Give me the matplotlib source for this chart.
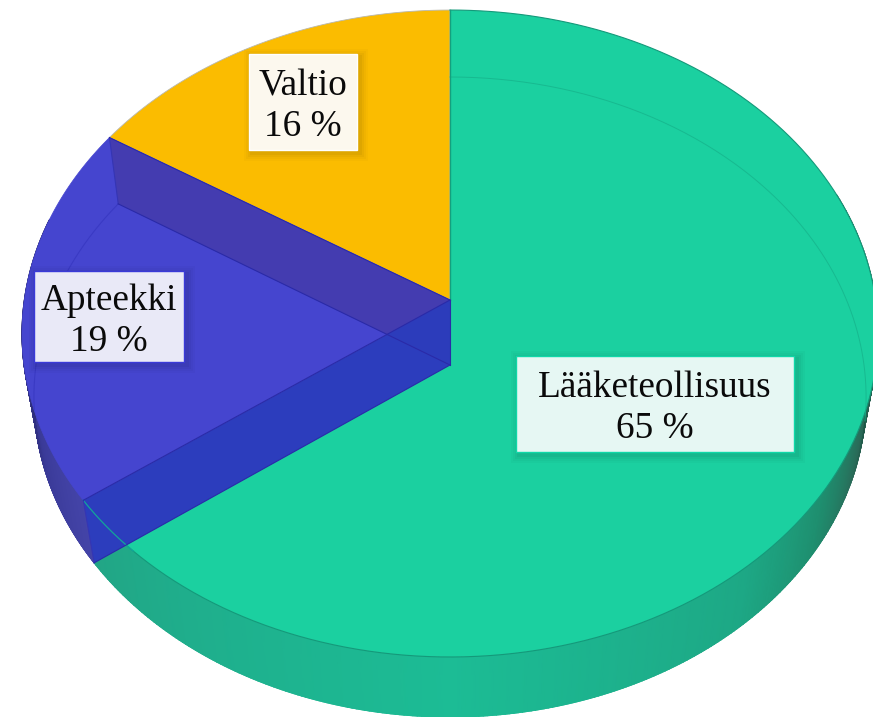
import numpy as np
import matplotlib
matplotlib.use("Agg")
import matplotlib.pyplot as plt
from matplotlib.patches import Polygon, Rectangle
from matplotlib.colors import LinearSegmentedColormap

# data
categories = ["Lääketeollisuus", "Apteekki", "Valtio"]
shares = [65, 19, 16]
face_colors = ["#1BD0A0", "#4545CF", "#FBBC00"]

# label boxes: left, top, right, bottom (pixels), fill, border
box_lefts = [516, 34, 249]
box_tops = [356, 271, 54]
box_rights = [794, 184, 357]
box_bottoms = [452, 362, 150]
box_fills = ["#E6F7F3", "#E9E9F7", "#FCF8EE"]
box_edges = ["#10D8A8", "#3A3AD8", "#FFFFFF"]

plt.rcParams["font.family"] = ["Liberation Serif", "DejaVu Serif"]
fig = plt.figure(figsize=(8.73, 7.17), dpi=100)
ax = fig.add_axes([0, 0, 1, 1])
ax.set_xlim(0, 873)
ax.set_ylim(717, 0)
ax.axis("off")

# perspective projection of the two pie faces
CX = 450.0
TOP = dict(cy=300.0, r=425.7, h=320.0, k=0.1036)
BOT = dict(cy=365.0, r=414.0, h=316.8, k=0.1000)


def project(deg, f):
    """deg = clockwise from 12 o'clock; returns pixel x, y."""
    t = np.radians(np.asarray(deg, dtype=float))
    u, v = np.sin(t), np.cos(t)
    w = 1 + f["k"] * v
    return np.column_stack((CX + f["r"] * u / w, f["cy"] - f["h"] * v / w))


def arc(a, b, f, n=160):
    return project(np.linspace(a, b, n), f)


def apex(f):
    return np.array([[CX, f["cy"]]])


edges = np.cumsum([0] + shares) * 3.6
g0, g1 = edges[0], edges[1]   # green
b0, b1 = edges[1], edges[2]   # blue
y0, y1 = edges[2], edges[3]   # yellow

# outer walls with smooth shading
green_stops = [(70, "#153a30"), (98, "#1b4f40"), (110, "#2a6a58"), (125, "#1E9070"),
               (140, "#1DA885"), (180, "#1CBC95"), (215, "#1FAE8C"), (234, "#22A585")]
blue_stops = [(234, "#4444A8"), (250, "#3A3A98"), (265, "#2A2A72"), (285, "#24245C")]


def wall(a, b, stops, n=300):
    lo, hi = stops[0][0], stops[-1][0]
    cmap = LinearSegmentedColormap.from_list(
        "wall", [((s - lo) / (hi - lo), c) for s, c in stops], N=512)
    ts = np.linspace(a, b, n)
    top = project(ts, TOP)
    bot = project(ts, BOT)
    xs = np.column_stack((top[:, 0], bot[:, 0]))
    ys = np.column_stack((top[:, 1], bot[:, 1]))
    cs = np.column_stack((ts, ts))
    ax.pcolormesh(xs, ys, cs, cmap=cmap, vmin=lo, vmax=hi, shading="gouraud", zorder=1)
    # smooth the outer rim
    for i in range(n - 1):
        pass
    rim_colors = cmap((ts - lo) / (hi - lo))
    for i in range(0, n - 1):
        ax.plot(bot[i:i + 2, 0], bot[i:i + 2, 1], color=rim_colors[i], lw=0.8,
                solid_capstyle="round", zorder=1.1)


wall(70, g1, green_stops)
wall(b0, 285, blue_stops)

# top faces
ax.add_patch(Polygon(np.vstack((apex(TOP), arc(y0, y1, TOP))), closed=True,
                     fc=face_colors[2], ec="#B8B8B0", lw=0.6, zorder=2))
ax.add_patch(Polygon(np.vstack((apex(TOP), arc(b0, b1, TOP))), closed=True,
                     fc=face_colors[1], ec=face_colors[1], lw=0.5, zorder=2))
ax.add_patch(Polygon(np.vstack((apex(TOP), arc(g0, g1, TOP), apex(BOT))), closed=True,
                     fc=face_colors[0], ec="none", zorder=2))
ax.plot(*arc(g0, g1, TOP).T, color="#14997A", lw=0.8, zorder=3)

# hidden base seen through the translucent pie
ax.plot(*arc(0, 100, BOT).T, color="#16B48C", lw=0.7, alpha=0.8, zorder=3)
ax.plot(*arc(b1, 262, BOT).T, color="#3A3AC4", lw=0.8, zorder=3)

# inner walls of the blue slice
ax.add_patch(Polygon(np.vstack((project([y0], TOP), apex(TOP), apex(BOT), project([y0], BOT))),
                     closed=True, fc="#483DB0", ec="none", zorder=4))
ax.add_patch(Polygon(np.vstack((project([b0], TOP), apex(TOP), apex(BOT), project([b0], BOT))),
                     closed=True, fc="#2C3DBD", ec="none", zorder=5))
# overlap of the two inner walls
ax.add_patch(Polygon(np.vstack((project([y0], TOP), apex(TOP), apex(BOT), project([y0], BOT))),
                     closed=True, fc="#2C3AB0", ec="none", alpha=0.12, zorder=5.1))

# seam through the wall corner
ax.plot(*arc(b0 - 10.5, b0, TOP).T, color="#12A59A", lw=0.9, zorder=6)

for deg in (b0, y0):
    seg = np.vstack((project([deg], TOP), project([deg], BOT)))
    ax.plot(*seg.T, color="#3535B4", lw=0.8, zorder=6)
    for f in (TOP, BOT):
        seg = np.vstack((project([deg], f), apex(f)))
        ax.plot(*seg.T, color="#2A2AA8", lw=0.8, zorder=6)
ax.plot([CX, CX], [TOP["cy"], BOT["cy"]], color="#2A2AA8", lw=0.8, zorder=6)
ax.plot([CX, CX], [project([0], TOP)[0, 1], TOP["cy"]], color="#14A07E", lw=1.0, zorder=3.5)

# labels
for name, val, l, t, r, b, fc, ec in zip(categories, shares, box_lefts, box_tops, box_rights,
                                         box_bottoms, box_fills, box_edges):
    for grow, a in zip((8, 6, 4, 2), (0.02, 0.025, 0.03, 0.04)):
        ax.add_patch(Rectangle((l + 3 - grow, t + 3 - grow), r - l + 2 * grow, b - t + 2 * grow,
                               fc="black", ec="none", alpha=a, zorder=7))
    ax.add_patch(Rectangle((l, t), r - l, b - t, fc=fc, ec=ec, lw=1.0, zorder=8))
    ax.text((l + r) / 2, (t + b) / 2 + 4.5, f"{name}\n{val} %", ha="center", va="center",
            fontsize=26.8, linespacing=1.25, color="#0A0A0A", zorder=9)

fig.savefig("out.png", dpi=100, facecolor="white")
